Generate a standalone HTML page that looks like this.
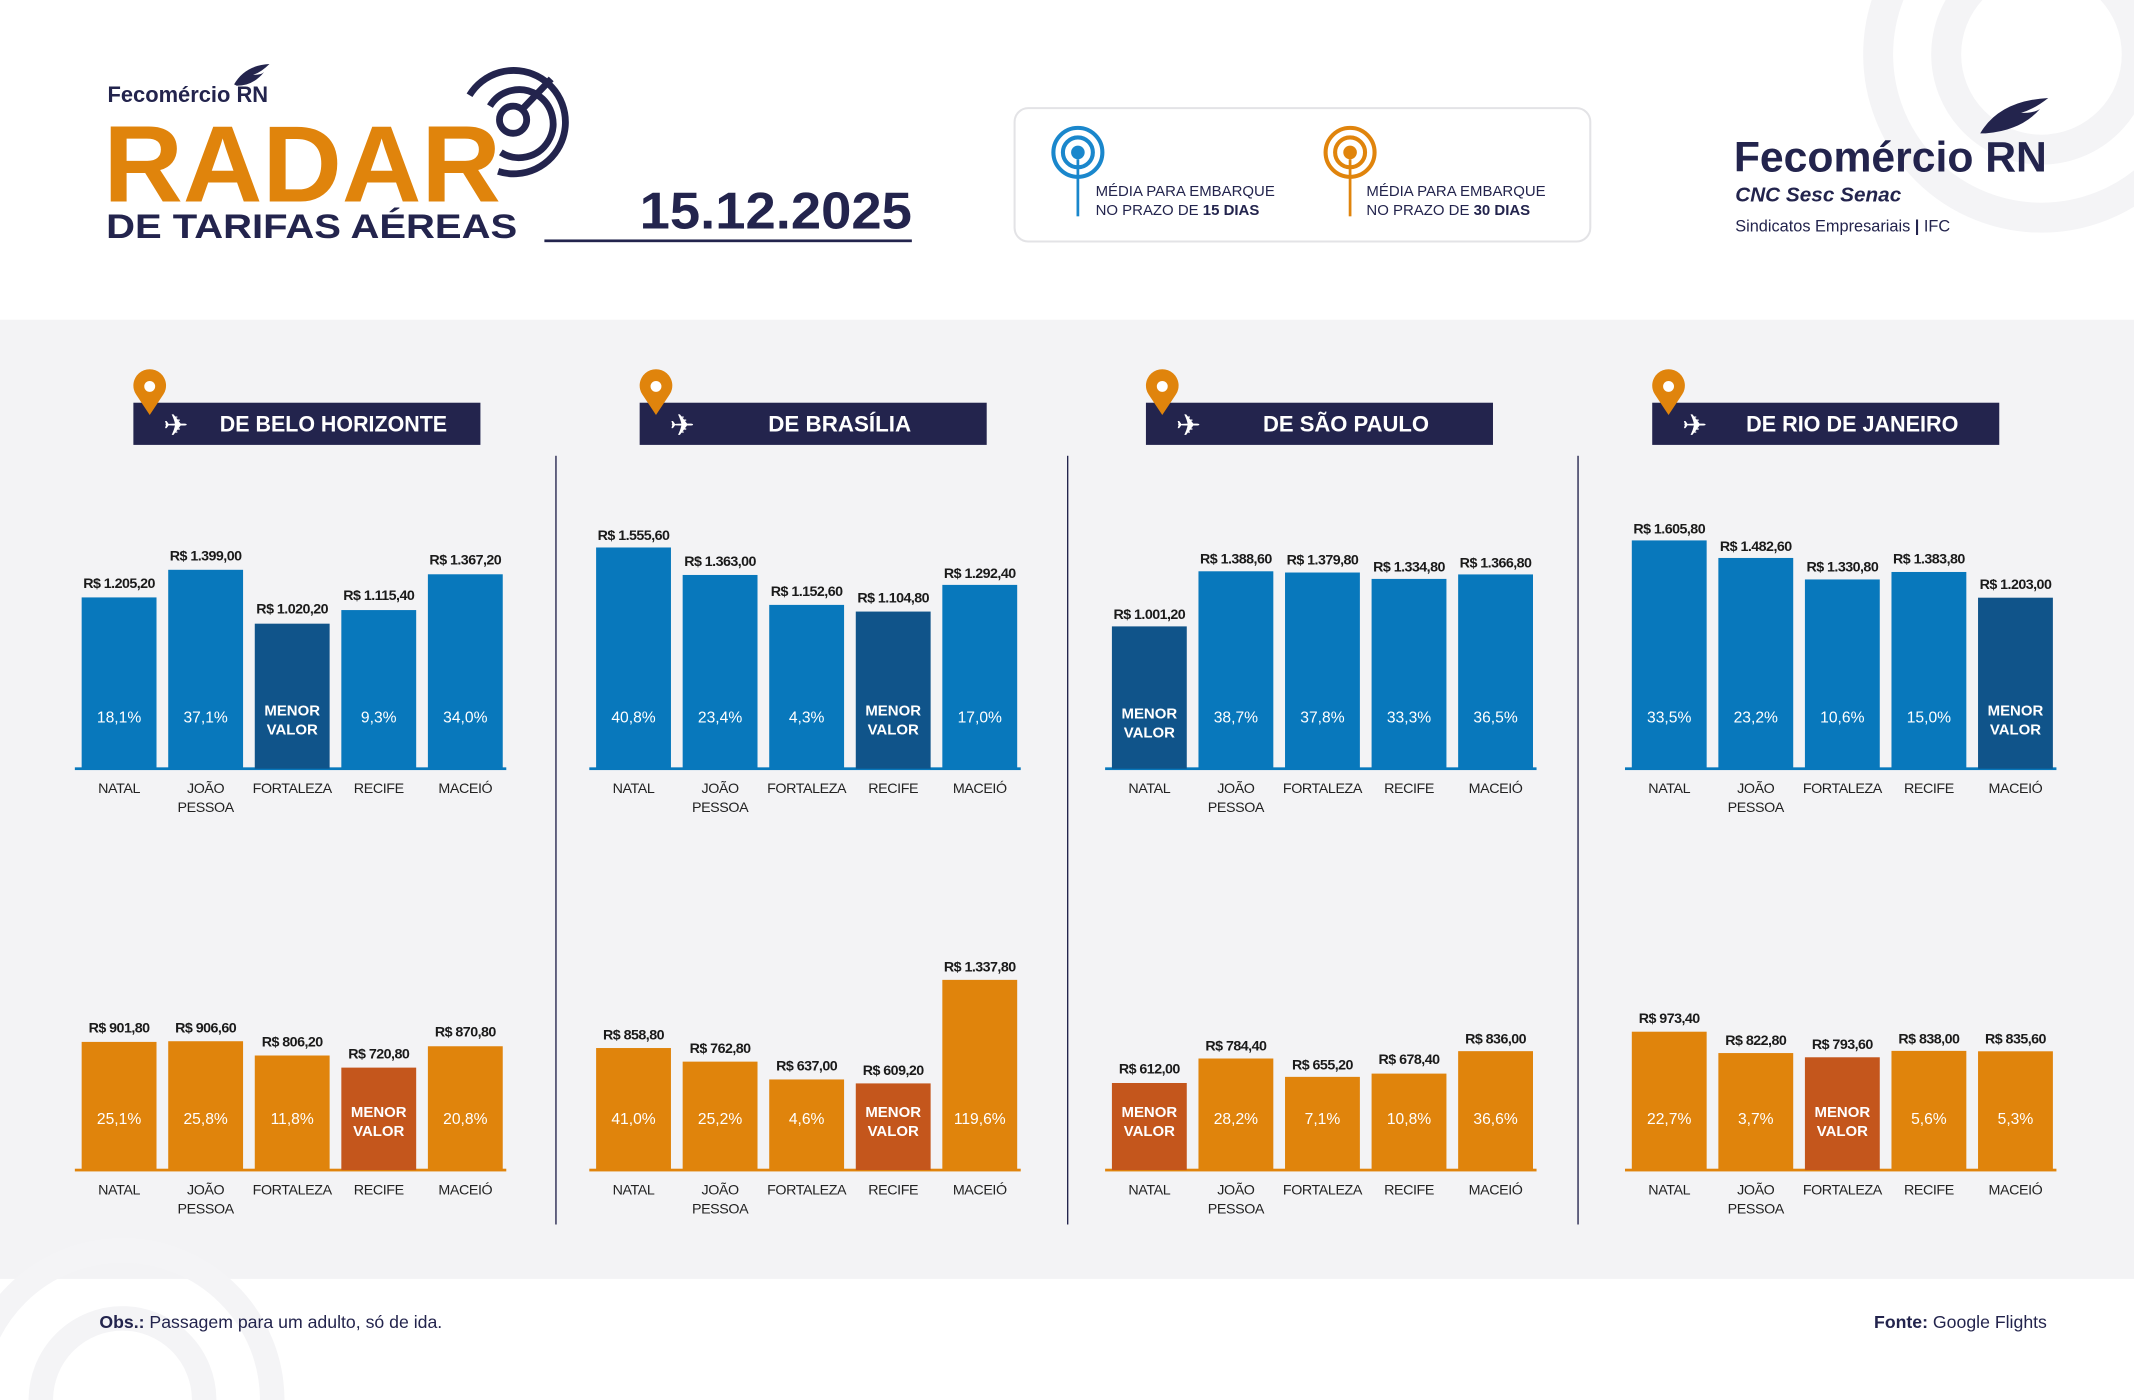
<!DOCTYPE html>
<html><head><meta charset="utf-8"><style>
html,body{margin:0;padding:0;background:#fff;overflow:hidden;width:2134px;height:1400px;}
svg{display:block;}
.v{font-family:"Liberation Sans",sans-serif;font-weight:bold;font-size:10.5px;letter-spacing:-0.4px;fill:#1a1a1a;text-anchor:middle;}
.p{font-family:"Liberation Sans",sans-serif;font-size:11.5px;fill:#fff;text-anchor:middle;}
.m{font-family:"Liberation Sans",sans-serif;font-size:11px;fill:#fff;text-anchor:middle;font-weight:bold;}
.c{font-family:"Liberation Sans",sans-serif;font-size:10.5px;letter-spacing:-0.3px;fill:#222;text-anchor:middle;}
.h{font-family:"Liberation Sans",sans-serif;font-weight:bold;font-size:16px;fill:#fff;text-anchor:middle;}
</style></head><body>
<svg width="2134" height="1400" viewBox="0 0 1568 1029" preserveAspectRatio="none" xmlns="http://www.w3.org/2000/svg">
<rect width="1568" height="1029" fill="#fff"/>
<g fill="none" stroke="#f4f4f6" stroke-width="22">
<circle cx="1500" cy="40" r="120"/><circle cx="1500" cy="40" r="70"/>
</g>
<rect y="235" width="1568" height="705" fill="#f3f3f5"/>
<g fill="none" stroke="#f4f4f6" stroke-width="18">
<circle cx="90" cy="1029" r="110"/><circle cx="90" cy="1029" r="60"/>
</g>

<!-- header left -->
<text x="79" y="75" font-family="Liberation Sans,sans-serif" font-weight="bold" font-size="16" fill="#23244d" textLength="118" lengthAdjust="spacingAndGlyphs">Fecomércio RN</text>
<path d="M172 62 q8 -14 26 -15 q-6 6 -12 8 q6 0 8 -2 q-8 10 -20 10z" fill="#23244d"/>
<text x="76" y="148" font-family="Liberation Sans,sans-serif" font-weight="bold" font-size="80" fill="#e0840c" textLength="292" lengthAdjust="spacingAndGlyphs">RADAR</text>
<g fill="none" stroke="#23244d" stroke-width="5">
<path d="M345 70 A38 38 0 1 1 366 126"/>
<path d="M360 78 A25 25 0 1 1 368 112"/>
<circle cx="377" cy="88" r="10"/>
<line x1="384" y1="80" x2="405" y2="58"/>
</g>
<text x="78" y="175" font-family="Liberation Sans,sans-serif" font-weight="bold" font-size="25" fill="#23244d" textLength="302" lengthAdjust="spacingAndGlyphs">DE TARIFAS AÉREAS</text>
<text x="470" y="168" font-family="Liberation Sans,sans-serif" font-size="38" fill="#23244d" font-weight="bold" textLength="200" lengthAdjust="spacingAndGlyphs">15.12.2025</text>
<rect x="400" y="176" width="270" height="2" fill="#23244d"/>

<!-- legend -->
<rect x="745.5" y="79.5" width="423" height="98" rx="10" fill="#fff" stroke="#e3e3e6" stroke-width="1.5"/>
<g fill="none" stroke="#1a87cc" stroke-width="3"><circle cx="792" cy="112" r="18"/><circle cx="792" cy="112" r="11"/></g>
<circle cx="792" cy="112" r="5" fill="#1a87cc"/><rect x="791" y="117" width="2" height="42" fill="#1a87cc"/>
<g fill="none" stroke="#e0840c" stroke-width="3"><circle cx="992" cy="112" r="18"/><circle cx="992" cy="112" r="11"/></g>
<circle cx="992" cy="112" r="5" fill="#e0840c"/><rect x="991" y="117" width="2" height="42" fill="#e0840c"/>
<g font-family="Liberation Sans,sans-serif" font-size="11" fill="#23244d">
<text x="805" y="144">MÉDIA PARA EMBARQUE</text><text x="805" y="158">NO PRAZO DE <tspan font-weight="bold">15 DIAS</tspan></text>
<text x="1004" y="144">MÉDIA PARA EMBARQUE</text><text x="1004" y="158">NO PRAZO DE <tspan font-weight="bold">30 DIAS</tspan></text>
</g>

<!-- right logo -->
<text x="1274" y="126" font-family="Liberation Sans,sans-serif" font-weight="bold" font-size="31" fill="#23244d" textLength="230" lengthAdjust="spacingAndGlyphs">Fecomércio RN</text>
<path d="M1455 98 q14 -24 50 -26 q-10 8 -20 11 q10 0 14 -3 q-14 16 -40 18z" fill="#23244d"/>
<text x="1275" y="148" font-family="Liberation Sans,sans-serif" font-weight="bold" font-style="italic" font-size="15" fill="#23244d" textLength="122" lengthAdjust="spacingAndGlyphs">CNC Sesc Senac</text>
<text x="1275" y="170" font-family="Liberation Sans,sans-serif" font-size="12" fill="#23244d">Sindicatos Empresariais  <tspan font-weight="bold">|</tspan>  IFC</text>

<!-- dividers -->
<g fill="#23244d"><rect x="408" y="335" width="1" height="565"/><rect x="784" y="335" width="1" height="565"/><rect x="1159" y="335" width="1" height="565"/></g>

<!-- panel headers -->
<g fill="#23244d">
<rect x="98" y="296" width="255" height="31"/>
<rect x="470" y="296" width="255" height="31"/>
<rect x="842" y="296" width="255" height="31"/>
<rect x="1214" y="296" width="255" height="31"/>
</g>
<g fill="#e0840c">
<path d="M110 305 L100 290 A12 12 0 1 1 120 290 Z"/>
<path d="M482 305 L472 290 A12 12 0 1 1 492 290 Z"/>
<path d="M854 305 L844 290 A12 12 0 1 1 864 290 Z"/>
<path d="M1226 305 L1216 290 A12 12 0 1 1 1236 290 Z"/>
</g>
<g fill="#fff"><circle cx="110" cy="284" r="4"/><circle cx="482" cy="284" r="4"/><circle cx="854" cy="284" r="4"/><circle cx="1226" cy="284" r="4"/></g>
<g font-family="DejaVu Sans,sans-serif" font-size="22" fill="#fff">
<text x="120" y="320">✈</text><text x="492" y="320">✈</text><text x="864" y="320">✈</text><text x="1236" y="320">✈</text>
</g>
<text class="h" x="245" y="317" textLength="167" lengthAdjust="spacingAndGlyphs">DE BELO HORIZONTE</text>
<text class="h" x="617" y="317" textLength="105" lengthAdjust="spacingAndGlyphs">DE BRASÍLIA</text>
<text class="h" x="989" y="317" textLength="122" lengthAdjust="spacingAndGlyphs">DE SÃO PAULO</text>
<text class="h" x="1361" y="317" textLength="156" lengthAdjust="spacingAndGlyphs">DE RIO DE JANEIRO</text>

<!-- Panel 1 -->
<g transform="translate(60,0)">
<rect x="-5" y="564" width="317" height="2" fill="#0878bc"/>
<rect x="0" y="439.1" width="55" height="125.9" fill="#0878bc"/>
<rect x="63.6" y="418.8" width="55" height="146.2" fill="#0878bc"/>
<rect x="127.2" y="458.4" width="55" height="106.6" fill="#10548a"/>
<rect x="190.8" y="448.4" width="55" height="116.6" fill="#0878bc"/>
<rect x="254.4" y="422.1" width="55" height="142.9" fill="#0878bc"/>
<text class="v" x="27.5" y="432">R$ 1.205,20</text><text class="v" x="91.1" y="412">R$ 1.399,00</text><text class="v" x="154.7" y="451">R$ 1.020,20</text><text class="v" x="218.3" y="441">R$ 1.115,40</text><text class="v" x="281.9" y="415">R$ 1.367,20</text>
<text class="p" x="27.5" y="531">18,1%</text><text class="p" x="91.1" y="531">37,1%</text><text class="m" x="154.7" y="526">MENOR</text><text class="m" x="154.7" y="540">VALOR</text><text class="p" x="218.3" y="531">9,3%</text><text class="p" x="281.9" y="531">34,0%</text>
<text class="c" x="27.5" y="583">NATAL</text><text class="c" x="91.1" y="583">JOÃO</text><text class="c" x="91.1" y="597">PESSOA</text><text class="c" x="154.7" y="583">FORTALEZA</text><text class="c" x="218.3" y="583">RECIFE</text><text class="c" x="281.9" y="583">MACEIÓ</text>
<rect x="-5" y="859" width="317" height="2" fill="#e0840c"/>
<rect x="0" y="765.8" width="55" height="94.2" fill="#e0840c"/>
<rect x="63.6" y="765.3" width="55" height="94.7" fill="#e0840c"/>
<rect x="127.2" y="775.8" width="55" height="84.2" fill="#e0840c"/>
<rect x="190.8" y="784.7" width="55" height="75.3" fill="#c4561c"/>
<rect x="254.4" y="769" width="55" height="91" fill="#e0840c"/>
<text class="v" x="27.5" y="759">R$ 901,80</text><text class="v" x="91.1" y="759">R$ 906,60</text><text class="v" x="154.7" y="769">R$ 806,20</text><text class="v" x="218.3" y="778">R$ 720,80</text><text class="v" x="281.9" y="762">R$ 870,80</text>
<text class="p" x="27.5" y="826">25,1%</text><text class="p" x="91.1" y="826">25,8%</text><text class="p" x="154.7" y="826">11,8%</text><text class="m" x="218.3" y="821">MENOR</text><text class="m" x="218.3" y="835">VALOR</text><text class="p" x="281.9" y="826">20,8%</text>
<text class="c" x="27.5" y="878">NATAL</text><text class="c" x="91.1" y="878">JOÃO</text><text class="c" x="91.1" y="892">PESSOA</text><text class="c" x="154.7" y="878">FORTALEZA</text><text class="c" x="218.3" y="878">RECIFE</text><text class="c" x="281.9" y="878">MACEIÓ</text>
</g>

<!-- Panel 2 -->
<g transform="translate(438,0)">
<rect x="-5" y="564" width="317" height="2" fill="#0878bc"/>
<rect x="0" y="402.4" width="55" height="162.6" fill="#0878bc"/>
<rect x="63.6" y="422.6" width="55" height="142.4" fill="#0878bc"/>
<rect x="127.2" y="444.6" width="55" height="120.4" fill="#0878bc"/>
<rect x="190.8" y="449.5" width="55" height="115.5" fill="#10548a"/>
<rect x="254.4" y="429.9" width="55" height="135.1" fill="#0878bc"/>
<text class="v" x="27.5" y="397">R$ 1.555,60</text><text class="v" x="91.1" y="416">R$ 1.363,00</text><text class="v" x="154.7" y="438">R$ 1.152,60</text><text class="v" x="218.3" y="443">R$ 1.104,80</text><text class="v" x="281.9" y="425">R$ 1.292,40</text>
<text class="p" x="27.5" y="531">40,8%</text><text class="p" x="91.1" y="531">23,4%</text><text class="p" x="154.7" y="531">4,3%</text><text class="m" x="218.3" y="526">MENOR</text><text class="m" x="218.3" y="540">VALOR</text><text class="p" x="281.9" y="531">17,0%</text>
<text class="c" x="27.5" y="583">NATAL</text><text class="c" x="91.1" y="583">JOÃO</text><text class="c" x="91.1" y="597">PESSOA</text><text class="c" x="154.7" y="583">FORTALEZA</text><text class="c" x="218.3" y="583">RECIFE</text><text class="c" x="281.9" y="583">MACEIÓ</text>
<rect x="-5" y="859" width="317" height="2" fill="#e0840c"/>
<rect x="0" y="770.3" width="55" height="89.7" fill="#e0840c"/>
<rect x="63.6" y="780.3" width="55" height="79.7" fill="#e0840c"/>
<rect x="127.2" y="793.4" width="55" height="66.6" fill="#e0840c"/>
<rect x="190.8" y="796.3" width="55" height="63.7" fill="#c4561c"/>
<rect x="254.4" y="720.2" width="55" height="139.8" fill="#e0840c"/>
<text class="v" x="27.5" y="764">R$ 858,80</text><text class="v" x="91.1" y="774">R$ 762,80</text><text class="v" x="154.7" y="787">R$ 637,00</text><text class="v" x="218.3" y="790">R$ 609,20</text><text class="v" x="281.9" y="714">R$ 1.337,80</text>
<text class="p" x="27.5" y="826">41,0%</text><text class="p" x="91.1" y="826">25,2%</text><text class="p" x="154.7" y="826">4,6%</text><text class="m" x="218.3" y="821">MENOR</text><text class="m" x="218.3" y="835">VALOR</text><text class="p" x="281.9" y="826">119,6%</text>
<text class="c" x="27.5" y="878">NATAL</text><text class="c" x="91.1" y="878">JOÃO</text><text class="c" x="91.1" y="892">PESSOA</text><text class="c" x="154.7" y="878">FORTALEZA</text><text class="c" x="218.3" y="878">RECIFE</text><text class="c" x="281.9" y="878">MACEIÓ</text>
</g>

<!-- Panel 3 -->
<g transform="translate(817,0)">
<rect x="-5" y="564" width="317" height="2" fill="#0878bc"/>
<rect x="0" y="460.4" width="55" height="104.6" fill="#10548a"/>
<rect x="63.6" y="419.9" width="55" height="145.1" fill="#0878bc"/>
<rect x="127.2" y="420.8" width="55" height="144.2" fill="#0878bc"/>
<rect x="190.8" y="425.5" width="55" height="139.5" fill="#0878bc"/>
<rect x="254.4" y="422.2" width="55" height="142.8" fill="#0878bc"/>
<text class="v" x="27.5" y="455">R$ 1.001,20</text><text class="v" x="91.1" y="414">R$ 1.388,60</text><text class="v" x="154.7" y="415">R$ 1.379,80</text><text class="v" x="218.3" y="420">R$ 1.334,80</text><text class="v" x="281.9" y="417">R$ 1.366,80</text>
<text class="m" x="27.5" y="528">MENOR</text><text class="m" x="27.5" y="542">VALOR</text><text class="p" x="91.1" y="531">38,7%</text><text class="p" x="154.7" y="531">37,8%</text><text class="p" x="218.3" y="531">33,3%</text><text class="p" x="281.9" y="531">36,5%</text>
<text class="c" x="27.5" y="583">NATAL</text><text class="c" x="91.1" y="583">JOÃO</text><text class="c" x="91.1" y="597">PESSOA</text><text class="c" x="154.7" y="583">FORTALEZA</text><text class="c" x="218.3" y="583">RECIFE</text><text class="c" x="281.9" y="583">MACEIÓ</text>
<rect x="-5" y="859" width="317" height="2" fill="#e0840c"/>
<rect x="0" y="796" width="55" height="64" fill="#c4561c"/>
<rect x="63.6" y="778" width="55" height="82" fill="#e0840c"/>
<rect x="127.2" y="791.5" width="55" height="68.5" fill="#e0840c"/>
<rect x="190.8" y="789.1" width="55" height="70.9" fill="#e0840c"/>
<rect x="254.4" y="772.6" width="55" height="87.4" fill="#e0840c"/>
<text class="v" x="27.5" y="789">R$ 612,00</text><text class="v" x="91.1" y="772">R$ 784,40</text><text class="v" x="154.7" y="786">R$ 655,20</text><text class="v" x="218.3" y="782">R$ 678,40</text><text class="v" x="281.9" y="767">R$ 836,00</text>
<text class="m" x="27.5" y="821">MENOR</text><text class="m" x="27.5" y="835">VALOR</text><text class="p" x="91.1" y="826">28,2%</text><text class="p" x="154.7" y="826">7,1%</text><text class="p" x="218.3" y="826">10,8%</text><text class="p" x="281.9" y="826">36,6%</text>
<text class="c" x="27.5" y="878">NATAL</text><text class="c" x="91.1" y="878">JOÃO</text><text class="c" x="91.1" y="892">PESSOA</text><text class="c" x="154.7" y="878">FORTALEZA</text><text class="c" x="218.3" y="878">RECIFE</text><text class="c" x="281.9" y="878">MACEIÓ</text>
</g>

<!-- Panel 4 -->
<g transform="translate(1199,0)">
<rect x="-5" y="564" width="317" height="2" fill="#0878bc"/>
<rect x="0" y="397.2" width="55" height="167.8" fill="#0878bc"/>
<rect x="63.6" y="410.1" width="55" height="154.9" fill="#0878bc"/>
<rect x="127.2" y="425.9" width="55" height="139.1" fill="#0878bc"/>
<rect x="190.8" y="420.4" width="55" height="144.6" fill="#0878bc"/>
<rect x="254.4" y="439.3" width="55" height="125.7" fill="#10548a"/>
<text class="v" x="27.5" y="392">R$ 1.605,80</text><text class="v" x="91.1" y="405">R$ 1.482,60</text><text class="v" x="154.7" y="420">R$ 1.330,80</text><text class="v" x="218.3" y="414">R$ 1.383,80</text><text class="v" x="281.9" y="433">R$ 1.203,00</text>
<text class="p" x="27.5" y="531">33,5%</text><text class="p" x="91.1" y="531">23,2%</text><text class="p" x="154.7" y="531">10,6%</text><text class="p" x="218.3" y="531">15,0%</text><text class="m" x="281.9" y="526">MENOR</text><text class="m" x="281.9" y="540">VALOR</text>
<text class="c" x="27.5" y="583">NATAL</text><text class="c" x="91.1" y="583">JOÃO</text><text class="c" x="91.1" y="597">PESSOA</text><text class="c" x="154.7" y="583">FORTALEZA</text><text class="c" x="218.3" y="583">RECIFE</text><text class="c" x="281.9" y="583">MACEIÓ</text>
<rect x="-5" y="859" width="317" height="2" fill="#e0840c"/>
<rect x="0" y="758.3" width="55" height="101.7" fill="#e0840c"/>
<rect x="63.6" y="774" width="55" height="86" fill="#e0840c"/>
<rect x="127.2" y="777.1" width="55" height="82.9" fill="#c4561c"/>
<rect x="190.8" y="772.4" width="55" height="87.6" fill="#e0840c"/>
<rect x="254.4" y="772.7" width="55" height="87.3" fill="#e0840c"/>
<text class="v" x="27.5" y="752">R$ 973,40</text><text class="v" x="91.1" y="768">R$ 822,80</text><text class="v" x="154.7" y="771">R$ 793,60</text><text class="v" x="218.3" y="767">R$ 838,00</text><text class="v" x="281.9" y="767">R$ 835,60</text>
<text class="p" x="27.5" y="826">22,7%</text><text class="p" x="91.1" y="826">3,7%</text><text class="m" x="154.7" y="821">MENOR</text><text class="m" x="154.7" y="835">VALOR</text><text class="p" x="218.3" y="826">5,6%</text><text class="p" x="281.9" y="826">5,3%</text>
<text class="c" x="27.5" y="878">NATAL</text><text class="c" x="91.1" y="878">JOÃO</text><text class="c" x="91.1" y="892">PESSOA</text><text class="c" x="154.7" y="878">FORTALEZA</text><text class="c" x="218.3" y="878">RECIFE</text><text class="c" x="281.9" y="878">MACEIÓ</text>
</g>

<!-- footer -->
<text x="73" y="976" font-family="Liberation Sans,sans-serif" font-size="13" fill="#23244d"><tspan font-weight="bold">Obs.:</tspan> Passagem para um adulto, só de ida.</text>
<text x="1504" y="976" text-anchor="end" font-family="Liberation Sans,sans-serif" font-size="13" fill="#23244d"><tspan font-weight="bold">Fonte:</tspan> Google Flights</text>
</svg>
</body></html>
